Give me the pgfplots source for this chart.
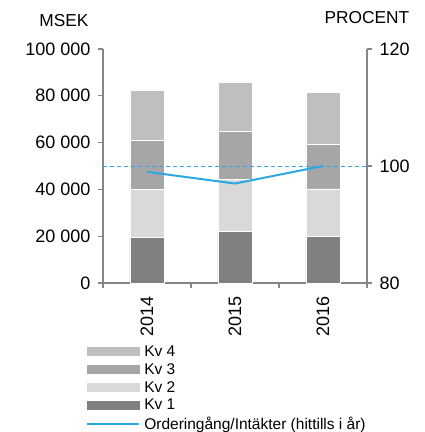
\documentclass[border=0pt]{standalone}
\usepackage{fontspec}
\setmainfont{Liberation Sans}
\usepackage{pgfplots}
\pgfplotsset{compat=1.18}

\definecolor{kvA}{HTML}{808080}
\definecolor{kvB}{HTML}{D9D9D9}
\definecolor{kvC}{HTML}{A6A6A6}
\definecolor{kvD}{HTML}{BFBFBF}
\definecolor{axgray}{HTML}{868686}
\definecolor{lineblue}{HTML}{2AA8E0}

\pgfplotsset{
  common/.style={
    at={(103pt,149pt)}, anchor=south west,
    scale only axis, width=264pt, height=234pt,
    xmin=-0.5, xmax=2.5,
    axis line style={draw=axgray, line width=1.1pt},
    tick style={draw=axgray, line width=1.1pt},
    tick align=outside,
    major tick length=5pt,
    scaled y ticks=false,
    tick label style={font=\fontsize{18}{21}\selectfont},
    label style={font=\fontsize{17.3}{20}\selectfont},
  },
}

\begin{document}
\begin{tikzpicture}
\useasboundingbox (0,0) rectangle (424pt,432pt);

\begin{axis}[
  common,
  ymin=0, ymax=100000,
  ybar stacked, bar width=34pt,
  axis x line*=bottom, axis y line*=left,
  xtick={-0.5,0.5,1.5,2.5}, xticklabels={},
  extra x ticks={0,1,2},
  extra x tick labels={2014,2015,2016},
  extra x tick style={major tick length=0pt,
    tick label style={rotate=90, anchor=east, xshift=-10pt}},
  ytick={0,20000,40000,60000,80000,100000},
  yticklabels={0,20 000,40 000,60 000,80 000,100 000},
  yticklabel style={xshift=-4pt},
  ylabel={MSEK},
  ylabel style={rotate=-90, at={(axis description cs:-0.148,1.098)}, anchor=base},
]
\addplot[fill=kvA, draw=white, line width=0.7pt] coordinates {(0,19400) (1,22100) (2,19800)};
\addplot[fill=kvB, draw=white, line width=0.7pt] coordinates {(0,20600) (1,22200) (2,20400)};
\addplot[fill=kvC, draw=white, line width=0.7pt] coordinates {(0,20800) (1,20700) (2,19200)};
\addplot[fill=kvD, draw=white, line width=0.7pt] coordinates {(0,21700) (1,20900) (2,22100)};
\end{axis}

\begin{axis}[
  common,
  ymin=80, ymax=120,
  axis x line=none, axis y line*=right,
  ytick={80,100,120},
  yticklabels={80,100,120},
  yticklabel style={xshift=4pt},
  ylabel={PROCENT},
  ylabel style={rotate=-90, at={(axis description cs:1.0,1.107)}, anchor=base},
  legend style={draw=none, fill=none, inner sep=0pt,
    at={(axis description cs:-0.064,-0.258)}, anchor=north west,
    font=\fontsize{15.5}{18}\selectfont, cells={anchor=west},
    row sep=1.6pt},
]
\addlegendimage{legend image code/.code={\fill[kvD] (0pt,-4pt) rectangle (52pt,4pt); \path (54pt,0pt);}}
\addlegendentry{Kv 4}
\addlegendimage{legend image code/.code={\fill[kvC] (0pt,-4pt) rectangle (52pt,4pt); \path (54pt,0pt);}}
\addlegendentry{Kv 3}
\addlegendimage{legend image code/.code={\fill[kvB] (0pt,-4pt) rectangle (52pt,4pt); \path (54pt,0pt);}}
\addlegendentry{Kv 2}
\addlegendimage{legend image code/.code={\fill[kvA] (0pt,-4pt) rectangle (52pt,4pt); \path (54pt,0pt);}}
\addlegendentry{Kv 1}
\addplot[lineblue, dashed, line width=0.9pt, dash pattern=on 4pt off 3pt, forget plot]
  coordinates {(-0.5,100) (2.5,100)};
\addplot[lineblue, line width=2pt,
  legend image code/.code={\draw[lineblue, line width=2pt] (0pt,0pt) -- (52pt,0pt); \path (54pt,0pt);}]
  coordinates {(0,99.0) (1,97.0) (2,100.0)};
\addlegendentry{Orderingång/Intäkter (hittills i år)}
\end{axis}
\end{tikzpicture}
\end{document}
